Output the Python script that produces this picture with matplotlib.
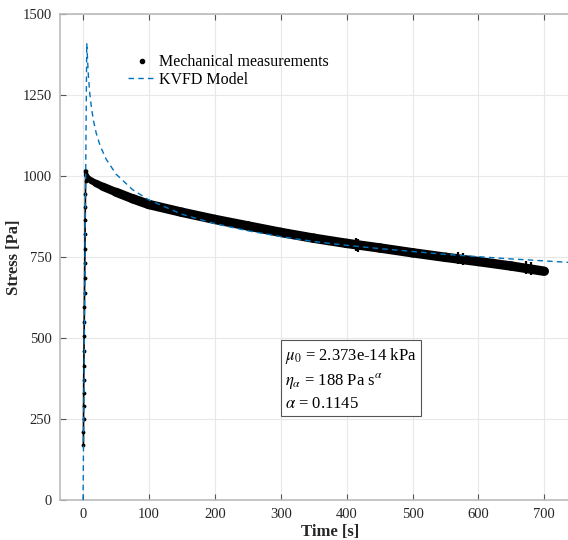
import matplotlib
matplotlib.use("Agg")
import matplotlib.pyplot as plt
from matplotlib.lines import Line2D
from matplotlib.collections import LineCollection

plt.rcParams['font.family'] = ['Liberation Serif', 'DejaVu Serif']
plt.rcParams['mathtext.fontset'] = 'stix'

# ---- data ----
# loading ramp of the measurement (time s, stress Pa)
ramp_t = [0.5, 0.6, 0.7, 0.8, 0.9, 1.0, 1.2, 1.4, 1.6, 1.8, 2.0, 2.2, 2.4, 2.6, 2.8, 3.0, 3.2, 3.4, 3.6, 3.8, 4.0]
ramp_s = [170, 210, 250, 290, 330, 370, 415, 460, 505, 550, 595, 640, 685, 730, 775, 820, 865, 905, 945, 985, 1015]
# relaxation part of the measurement
meas_t = [4, 5, 8, 12, 20, 30, 50, 75, 100, 150, 200, 250, 300, 350, 400, 450, 500, 550, 600, 650, 700]
meas_s = [1015, 1003, 993, 986, 977, 967, 950, 930, 912, 888, 866, 846, 826, 808, 792, 778, 763, 749, 736, 722, 706]
# small outlier spikes
spike_t = [414, 418, 569, 577, 672, 680]
spike_lo = [768, 766, 727, 725, 697, 695]
spike_hi = [810, 806, 766, 763, 738, 735]
# KVFD model curve
model_t = [0, 5.6, 6.5, 8, 10, 13, 16, 20, 26, 35, 50, 75, 100, 150, 200, 250, 300, 350, 400, 450, 500, 550, 600, 650, 700, 740]
model_s = [0, 1410, 1372, 1312, 1259, 1206, 1169, 1132, 1093, 1052, 1006, 958, 926, 882, 853, 831, 813, 798, 786, 776, 767, 758, 751, 744, 738, 733]

x_ticks = [0, 100, 200, 300, 400, 500, 600, 700]
y_ticks = [0, 250, 500, 750, 1000, 1250, 1500]

W, H = 568, 540
fig = plt.figure(figsize=(W / 100, H / 100), dpi=100)
ax = fig.add_axes([60 / W, 40 / H, (600 - 60) / W, 486 / H])

blue = '#0072BD'
axcol = '#262626'

# measurement band: dense dots form a band that thickens with time
segs = [[(meas_t[i], meas_s[i]), (meas_t[i + 1], meas_s[i + 1])] for i in range(len(meas_t) - 1)]
widths = [min(3.0 + 0.6 * i, 6.8) for i in range(len(segs))]
ax.add_collection(LineCollection(segs, colors='black', linewidths=widths,
                                 capstyle='round', zorder=3))
ax.plot(ramp_t, ramp_s, '-', color='black', lw=1.2, zorder=3)
ax.plot(ramp_t, ramp_s, '.', color='black', ms=3.5, zorder=3)
ax.vlines(spike_t, spike_lo, spike_hi, color='black', lw=1.6, zorder=3)
ax.plot(model_t, model_s, '--', color=blue, lw=1.0, dashes=(4, 3), zorder=4)

ax.set_xlim(-35, 784.5)
ax.set_ylim(0, 1500)
ax.set_xticks(x_ticks)
ax.set_yticks(y_ticks)
ax.tick_params(direction='in', length=4, width=0.8, colors='#555555',
               labelcolor=axcol, labelsize=10.5, top=True, right=True)
ax.tick_params(axis='x', pad=6)
ax.tick_params(axis='y', pad=6)
for s in ax.spines.values():
    s.set_color('#bbbbbb')
    s.set_linewidth(1.2)
ax.grid(True, color='#e8e8e8', lw=0.8)
ax.set_axisbelow(True)

ax.set_xlabel('Time [s]', fontsize=12, fontweight='bold', color=axcol, labelpad=2)
ax.set_ylabel('Stress [Pa]', fontsize=12, fontweight='bold', color=axcol, labelpad=0)

h1 = Line2D([], [], color='black', marker='.', ls='none', ms=6)
h2 = Line2D([], [], color=blue, ls='--', lw=1.0, dashes=(4, 3))
ax.legend([h1, h2], ['Mechanical measurements', 'KVFD Model'], frameon=False,
          loc='upper left', bbox_to_anchor=(0.115, 0.93), fontsize=11.5,
          handlelength=1.7, handletextpad=0.2, labelspacing=0.08, borderaxespad=0)

txt = ('$\\mu_0$ = 2.373e-14 kPa\n'
       '$\\eta_\\alpha$ = 188 Pa s$^\\alpha$\n'
       '$\\alpha$ = 0.1145')
ax.text(0.417, 0.316, txt, transform=ax.transAxes, fontsize=12, color='black',
        va='top', ha='left', linespacing=1.35,
        bbox=dict(boxstyle='square,pad=0.25', fc='white', ec='#555555', lw=0.8))

fig.savefig('out.png', dpi=100)
